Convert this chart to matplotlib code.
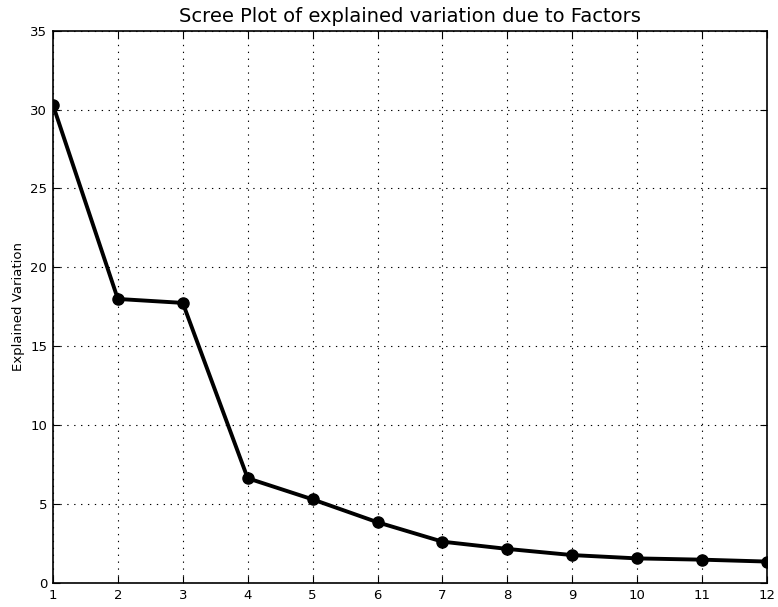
import matplotlib.pyplot as plt
import numpy as np

# explained variation per factor
factors = np.arange(1, 13)
variation = [30.3, 18.0, 17.75, 6.64, 5.3, 3.85, 2.62, 2.16, 1.77, 1.56, 1.48, 1.36]

fig = plt.figure(figsize=(7.78, 6.07), dpi=100)
ax = fig.add_axes([0.068, 0.0395, 0.918, 0.91])
ax.plot(factors, variation, color="black", linewidth=2.8, marker="o",
        markersize=8, zorder=3)
ax.set_xlim(1, 12)
ax.set_ylim(0, 35)
ax.set_xticks(factors)
ax.set_yticks(np.arange(0, 36, 5))
ax.grid(True, color="black", linestyle=(0, (1.2, 5)), linewidth=0.8)
ax.tick_params(direction="in", top=True, right=True, length=5, labelsize=9.5, pad=4)
for s in ax.spines.values():
    s.set_linewidth(1.2)
ax.set_ylabel("Explained Variation", fontsize=9.5)
ax.set_title("Scree Plot of explained variation due to Factors", fontsize=14)

fig.savefig("out.png", dpi=100)
